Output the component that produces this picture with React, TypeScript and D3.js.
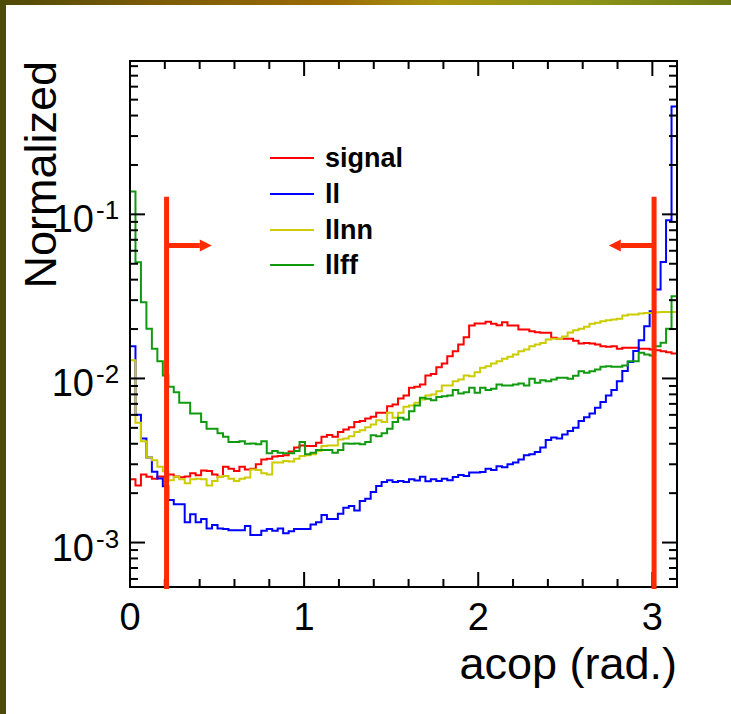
import React from 'react';
import * as d3 from 'd3';

// ---- data (100 bins over [0, pi]) ----
const X_MIN = 0;
const X_MAX = Math.PI;
const Y_MIN = 5.36e-4;
const Y_MAX = 0.86;

const signal = [
  0.00243, 0.00223, 0.0026, 0.00252, 0.00245, 0.00253, 0.00252, 0.0026, 0.00253, 0.0025,
  0.00253, 0.00264, 0.00257, 0.00275, 0.00273, 0.0026, 0.00252, 0.0029, 0.00282, 0.00273,
  0.0029, 0.00279, 0.00282, 0.003, 0.00321, 0.00324, 0.00334, 0.00337, 0.0034, 0.00359,
  0.00379, 0.00391, 0.00387, 0.00387, 0.00406, 0.00442, 0.00452, 0.00442, 0.00471, 0.00489,
  0.00505, 0.00542, 0.0055, 0.00571, 0.00585, 0.00618, 0.00618, 0.00678, 0.00695, 0.00756,
  0.00788, 0.00878, 0.0089, 0.0092, 0.01043, 0.01065, 0.0117, 0.01234, 0.01367, 0.01466,
  0.01611, 0.01784, 0.02102, 0.02162, 0.02162, 0.02213, 0.02156, 0.02111, 0.02204, 0.02102,
  0.02102, 0.01987, 0.01987, 0.01941, 0.01914, 0.01898, 0.01898, 0.01769, 0.01744, 0.01744,
  0.01744, 0.017, 0.01633, 0.01647, 0.01633, 0.01611, 0.01572, 0.01558, 0.01572, 0.01516,
  0.01537, 0.01537, 0.01537, 0.01516, 0.01516, 0.015, 0.01485, 0.01466, 0.01445, 0.01418,
];

const ll = [
  0.0157, 0.006, 0.0043, 0.0033, 0.0027, 0.00246, 0.0022, 0.00182, 0.00171, 0.00171,
  0.00133, 0.00149, 0.00133, 0.00139, 0.00122, 0.00128, 0.00122, 0.00121, 0.00119, 0.00119,
  0.00119, 0.00126, 0.00111, 0.00111, 0.00118, 0.00121, 0.00118, 0.00122, 0.00114, 0.00117,
  0.00121, 0.00121, 0.00121, 0.00129, 0.00133, 0.00147, 0.00139, 0.00139, 0.0015, 0.00163,
  0.00167, 0.00157, 0.00179, 0.00185, 0.00203, 0.00221, 0.00234, 0.0024, 0.00234, 0.00237,
  0.00234, 0.00243, 0.00239, 0.00252, 0.00236, 0.00243, 0.00237, 0.00245, 0.0024, 0.00251,
  0.00258, 0.00254, 0.00267, 0.00267, 0.00269, 0.00282, 0.00277, 0.00292, 0.00288, 0.003,
  0.00307, 0.00321, 0.0034, 0.00345, 0.00356, 0.00379, 0.00421, 0.00436, 0.0043, 0.00456,
  0.00478, 0.00501, 0.0055, 0.00581, 0.00612, 0.00663, 0.00718, 0.00788, 0.00849, 0.00963,
  0.0111, 0.0126, 0.0147, 0.0171, 0.0208, 0.0257, 0.0348, 0.0513, 0.0919, 0.454,
];

const llnn = [
  0.01292, 0.00538, 0.00414, 0.0033, 0.00317, 0.0029, 0.00272, 0.0024, 0.00252, 0.00243,
  0.0023, 0.00243, 0.00245, 0.00243, 0.00223, 0.00237, 0.00251, 0.00254, 0.00245, 0.00237,
  0.00245, 0.00249, 0.00279, 0.00277, 0.00264, 0.0026, 0.00307, 0.00307, 0.00314, 0.00312,
  0.00324, 0.00337, 0.0034, 0.00345, 0.00361, 0.00387, 0.00391, 0.00391, 0.00425, 0.0043,
  0.00445, 0.00471, 0.00484, 0.00505, 0.00525, 0.00557, 0.00542, 0.00618, 0.00577, 0.00618,
  0.00673, 0.00685, 0.00711, 0.00745, 0.00788, 0.00799, 0.00837, 0.00907, 0.00907, 0.00963,
  0.00986, 0.01043, 0.01033, 0.01092, 0.01162, 0.01188, 0.01234, 0.01274, 0.01318, 0.01355,
  0.014, 0.01466, 0.015, 0.01572, 0.01611, 0.01647, 0.01728, 0.01744, 0.01744, 0.01801,
  0.01905, 0.01968, 0.02007, 0.02064, 0.02153, 0.02183, 0.02233, 0.02264, 0.02286, 0.02309,
  0.02416, 0.0245, 0.0245, 0.02484, 0.02509, 0.02509, 0.0253, 0.02545, 0.02545, 0.02545,
];

const llff = [
  0.138, 0.051, 0.02913, 0.02007, 0.01516, 0.01274, 0.01043, 0.0089, 0.00825, 0.00711,
  0.00711, 0.00612, 0.00612, 0.00542, 0.00494, 0.00494, 0.00463, 0.00442, 0.0041, 0.0041,
  0.00415, 0.004, 0.00401, 0.00397, 0.00415, 0.0035, 0.00361, 0.00353, 0.0035, 0.0035,
  0.00361, 0.0041, 0.00345, 0.00353, 0.00366, 0.00366, 0.00366, 0.00353, 0.00366, 0.00401,
  0.004, 0.00401, 0.00397, 0.0041, 0.0045, 0.00445, 0.00463, 0.00494, 0.00542, 0.00577,
  0.00563, 0.00632, 0.00685, 0.00763, 0.00752, 0.00737, 0.00772, 0.0078, 0.00788, 0.00849,
  0.0081, 0.00825, 0.00878, 0.00818, 0.00878, 0.00849, 0.00866, 0.0092, 0.00907, 0.00907,
  0.0092, 0.00932, 0.00907, 0.00996, 0.00942, 0.00976, 0.00963, 0.00986, 0.0101, 0.0101,
  0.00996, 0.01038, 0.01108, 0.01083, 0.01108, 0.01134, 0.01178, 0.01188, 0.01178, 0.01178,
  0.012, 0.01274, 0.01274, 0.01434, 0.014, 0.0138, 0.01572, 0.01649, 0.02007, 0.0317,
];

const seriesNames = ['signal', 'll', 'llnn', 'llff'];
const seriesColors = ['#ff0000', '#0000ff', '#cccc00', '#109a10'];
const xMajorTicks = [0, 1, 2, 3];
const xTickLabels = ['0', '1', '2', '3'];
const yDecadeExponents = [-3, -2, -1];
const yDecadeLabels = ['-3', '-2', '-1'];
const cutValues = [0.21, 3.01];
const cutTop = 0.128;
const arrowLevel = 0.0645;
const arrowLength = 0.26;
const xTitle = 'acop (rad.)';
const yTitle = 'Normalized';

// ---- layout ----
const W = 731;
const H = 714;
const L = 130;
const R = 677;
const T = 61;
const B = 587;
const FONT = '"Liberation Sans", Arial, Helvetica, sans-serif';
const CUT_COLOR = '#ff2a00';

export default function App() {
  const x = d3.scaleLinear().domain([X_MIN, X_MAX]).range([L, R]);
  const y = d3.scaleLog().domain([Y_MIN, Y_MAX]).range([B, T]);
  const nBins = signal.length;
  const binW = (X_MAX - X_MIN) / nBins;

  const allSeries = [signal, ll, llnn, llff];

  const stepLine = d3
    .line<[number, number]>()
    .x((d) => x(d[0]))
    .y((d) => y(d[1]))
    .curve(d3.curveStepAfter);

  const histPath = (vals: number[]) => {
    const pts: [number, number][] = [[X_MIN, Y_MIN]];
    vals.forEach((v, i) => pts.push([X_MIN + i * binW, v]));
    pts.push([X_MAX, vals[vals.length - 1]]);
    pts.push([X_MAX, Y_MIN]);
    return stepLine(pts) || '';
  };

  // ticks
  const xMinor = d3.range(0, X_MAX, 0.2).filter((v) => Math.abs(v - Math.round(v)) > 1e-6);
  const yMinor: number[] = [];
  for (let e = -4; e <= 0; e++) {
    for (let k = 2; k <= 9; k++) {
      const v = k * Math.pow(10, e);
      if (v > Y_MIN && v < Y_MAX) yMinor.push(v);
    }
  }
  const yMajor = yDecadeExponents.map((e) => Math.pow(10, e));

  const majorLen = 15;
  const minorLen = 8;

  const legendRowsY = [158, 194, 230, 265];

  return (
    <svg
      width={W}
      height={H}
      style={{ position: 'absolute', left: 0, top: 0, background: '#ffffff' }}
    >
      <defs>
        <linearGradient id="topband" x1="0" y1="0" x2="1" y2="0">
          <stop offset="0" stopColor="#4e4a08" />
          <stop offset="0.2" stopColor="#7a5a08" />
          <stop offset="0.45" stopColor="#9a6a06" />
          <stop offset="0.6" stopColor="#a89410" />
          <stop offset="0.8" stopColor="#8e9418" />
          <stop offset="1" stopColor="#6e7a14" />
        </linearGradient>
        <clipPath id="plotclip">
          <rect x={L} y={T} width={R - L} height={B - T} />
        </clipPath>
      </defs>
      <rect x={0} y={0} width={W} height={H} fill="#ffffff" />
      <rect x={0} y={0} width={W} height={5} fill="url(#topband)" />
      <rect x={0} y={0} width={6} height={H} fill="#4e4a08" />

      {/* histograms */}
      <g clipPath="url(#plotclip)">
        {allSeries.map((s, i) => (
          <path
            key={seriesNames[i]}
            d={histPath(s)}
            fill="none"
            stroke={seriesColors[i]}
            strokeWidth={2}
            strokeLinejoin="miter"
          />
        ))}
      </g>

      {/* frame */}
      <rect x={L} y={T} width={R - L} height={B - T} fill="none" stroke="#000" strokeWidth={2} />

      {/* x ticks */}
      {xMajorTicks.map((v) => (
        <g key={'xM' + v}>
          <line x1={x(v)} x2={x(v)} y1={B} y2={B - majorLen} stroke="#000" strokeWidth={2} />
          <line x1={x(v)} x2={x(v)} y1={T} y2={T + majorLen} stroke="#000" strokeWidth={2} />
        </g>
      ))}
      {xMinor.map((v) => (
        <g key={'xm' + v}>
          <line x1={x(v)} x2={x(v)} y1={B} y2={B - minorLen} stroke="#000" strokeWidth={2} />
          <line x1={x(v)} x2={x(v)} y1={T} y2={T + minorLen} stroke="#000" strokeWidth={2} />
        </g>
      ))}
      {/* y ticks */}
      {yMajor.map((v) => (
        <g key={'yM' + v}>
          <line x1={L} x2={L + majorLen} y1={y(v)} y2={y(v)} stroke="#000" strokeWidth={2} />
          <line x1={R} x2={R - majorLen} y1={y(v)} y2={y(v)} stroke="#000" strokeWidth={2} />
        </g>
      ))}
      {yMinor.map((v) => (
        <g key={'ym' + v}>
          <line x1={L} x2={L + minorLen} y1={y(v)} y2={y(v)} stroke="#000" strokeWidth={2} />
          <line x1={R} x2={R - minorLen} y1={y(v)} y2={y(v)} stroke="#000" strokeWidth={2} />
        </g>
      ))}

      {/* x tick labels */}
      {xMajorTicks.map((v, i) => (
        <text
          key={'xl' + v}
          x={x(v)}
          y={630}
          textAnchor="middle"
          fontFamily={FONT}
          fontSize={38}
          fill="#000"
        >
          {xTickLabels[i]}
        </text>
      ))}
      {/* y tick labels */}
      {yMajor.map((v, i) => (
        <g key={'yl' + v}>
          <text
            x={94}
            y={y(v) + 18}
            textAnchor="end"
            fontFamily={FONT}
            fontSize={38}
            fill="#000"
          >
            10
          </text>
          <text x={96} y={y(v) + 5} fontFamily={FONT} fontSize={26} fill="#000">
            {yDecadeLabels[i]}
          </text>
        </g>
      ))}

      {/* axis titles */}
      <text
        x={R}
        y={679}
        textAnchor="end"
        fontFamily={FONT}
        fontSize={45}
        fill="#000"
      >
        {xTitle}
      </text>
      <text
        transform={`translate(56,${T}) rotate(-90)`}
        textAnchor="end"
        fontFamily={FONT}
        fontSize={45}
        fill="#000"
      >
        {yTitle}
      </text>

      {/* legend */}
      {seriesNames.map((n, i) => (
        <g key={'lg' + n}>
          <line
            x1={270}
            x2={314}
            y1={legendRowsY[i]}
            y2={legendRowsY[i]}
            stroke={seriesColors[i]}
            strokeWidth={2}
          />
          <text
            x={325}
            y={legendRowsY[i] + 9}
            fontFamily={FONT}
            fontWeight="bold"
            fontSize={27}
            fill="#000"
          >
            {n}
          </text>
        </g>
      ))}

      {/* cut lines with arrows */}
      {cutValues.map((c, i) => {
        const dir = i === 0 ? 1 : -1;
        const cx = x(c);
        const tip = x(c + dir * arrowLength);
        const ay = y(arrowLevel);
        const head = 12;
        return (
          <g key={'cut' + i}>
            <line x1={cx} x2={cx} y1={B + 2} y2={y(cutTop)} stroke={CUT_COLOR} strokeWidth={5} />
            <line x1={cx} x2={tip - dir * head} y1={ay} y2={ay} stroke={CUT_COLOR} strokeWidth={5} />
            <path
              d={`M${tip},${ay} L${tip - dir * head},${ay - 6} L${tip - dir * head},${ay + 6} Z`}
              fill={CUT_COLOR}
            />
          </g>
        );
      })}
    </svg>
  );
}
